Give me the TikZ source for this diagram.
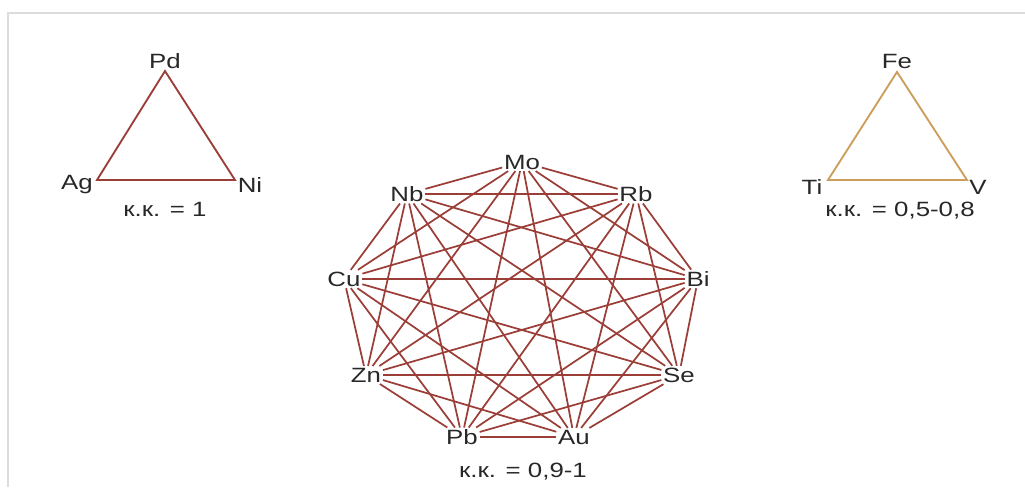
\documentclass[tikz,border=0pt]{standalone}
\usepackage{fontspec}
\setmainfont{Liberation Sans}[FakeStretch=1.25]
\definecolor{redc}{RGB}{155,62,56}
\definecolor{orac}{RGB}{204,158,92}
\definecolor{txt}{RGB}{40,40,40}
\definecolor{framec}{RGB}{220,220,220}
\tikzset{
  el/.style={font=\fontsize{15.5}{17}\selectfont, text=txt, inner sep=1.2pt},
  kk/.style={font=\fontsize{15.5}{17}\selectfont, text=txt, inner sep=1pt},
  redl/.style={draw=redc, line width=1.3pt},
  oral/.style={draw=orac, line width=1.4pt},
}
\begin{document}
\begin{tikzpicture}[x=0.75pt,y=-0.75pt]
\useasboundingbox (0,0) rectangle (1025,487);
\draw[framec, line width=0.8pt] (1025,13) -- (8,13) -- (8,487);

% left triangle
\coordinate (pdv) at (165,71);
\coordinate (agv) at (97,180);
\coordinate (niv) at (235,180);
\draw[redl, line width=1.4pt] (pdv) -- (agv) -- (niv) -- cycle;
\node[el] (Pd) at (165,61) {Pd};
\node[el] (Ag) at (77,185) {Ag};
\node[el] (Ni) at (250,185) {Ni};
\node[kk] (k1) at (165,209) {к.к. = 1};

% right triangle
\coordinate (fev) at (897,72);
\coordinate (tiv) at (828,180);
\coordinate (vv) at (967,180);
\draw[oral] (fev) -- (tiv) -- (vv) -- cycle;
\node[el] (Fe) at (897,61) {Fe};
\node[el] (Ti) at (812,187) {Ti};
\node[el] (V) at (978,187) {V};
\node[kk] (k2) at (900,211) {к.к. = 0,5-0,8};

% nonagon
\node[el] (n1) at (522,162) {Mo};
\node[el] (n2) at (636,194) {Rb};
\node[el] (n3) at (698,279) {Bi};
\node[el] (n4) at (679,375) {Se};
\node[el] (n5) at (574,437) {Au};
\node[el] (n6) at (462,437) {Pb};
\node[el] (n7) at (366,375) {Zn};
\node[el] (n8) at (344,279) {Cu};
\node[el] (n9) at (407,194) {Nb};
\foreach \i in {1,...,8}{
  \pgfmathtruncatemacro\s{\i+1}
  \foreach \j in {\s,...,9}{
    \draw[redl] (n\i) -- (n\j);
  }
}
\node[kk] (k3) at (523,472) {к.к. = 0,9-1};
\end{tikzpicture}
\end{document}
